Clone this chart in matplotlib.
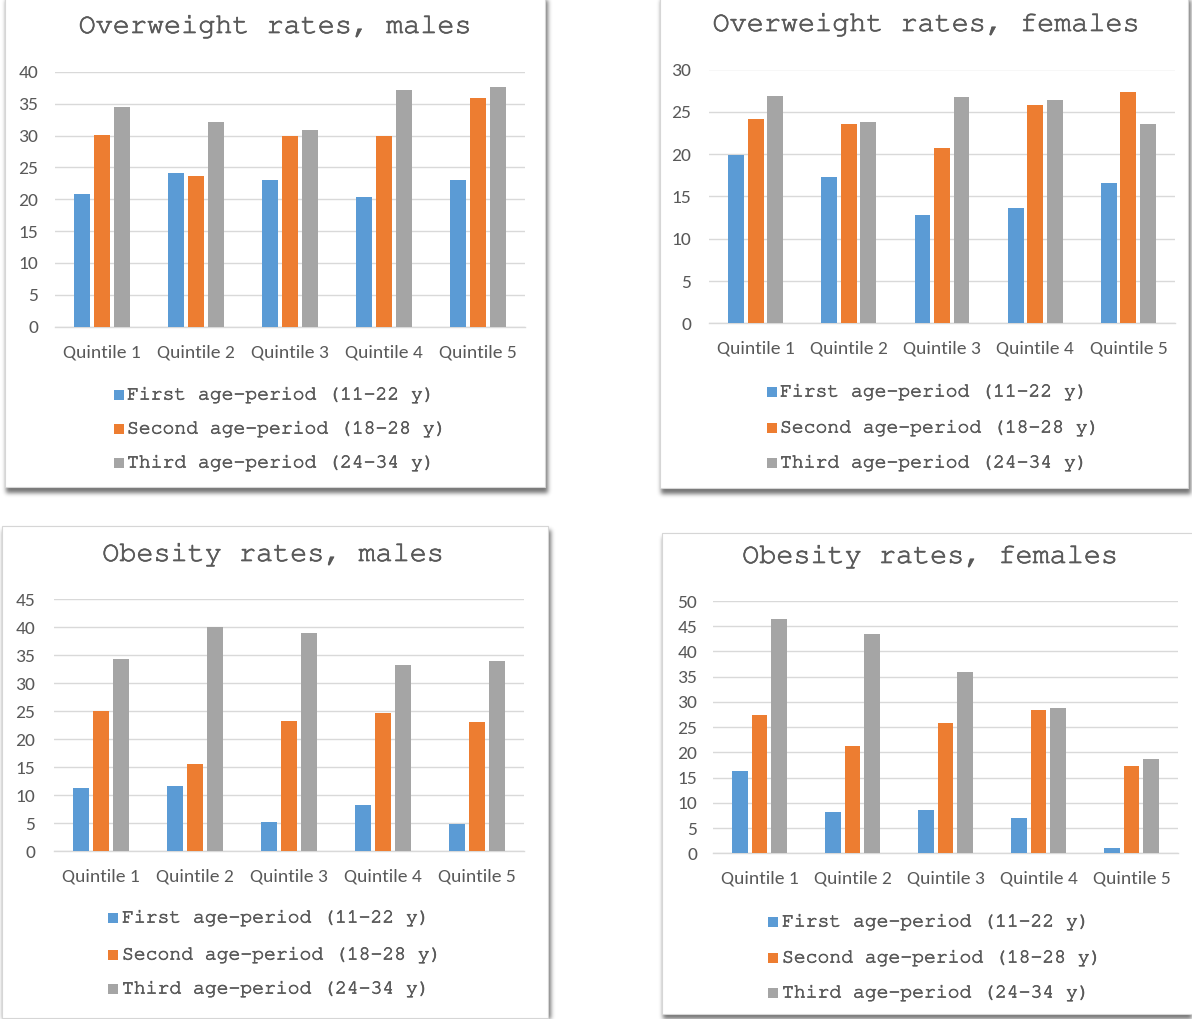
import numpy as np
import matplotlib
matplotlib.use("Agg")
import matplotlib.pyplot as plt
import matplotlib.patheffects as pe
from matplotlib.patches import Rectangle

# ---- data -------------------------------------------------------------
quintiles = ["Quintile 1", "Quintile 2", "Quintile 3", "Quintile 4", "Quintile 5"]
series_labels = ["First age-period (11-22 y)",
                 "Second age-period (18-28 y)",
                 "Third age-period (24-34 y)"]
series_colors = ["#5B9BD5", "#ED7D31", "#A5A5A5"]

overweight_males_first = [20.8, 24.1, 23.1, 20.3, 23.1]
overweight_males_second = [30.1, 23.6, 29.9, 29.9, 35.9]
overweight_males_third = [34.5, 32.1, 30.9, 37.2, 37.6]

overweight_females_first = [19.9, 17.3, 12.8, 13.6, 16.6]
overweight_females_second = [24.2, 23.6, 20.7, 25.8, 27.3]
overweight_females_third = [26.9, 23.8, 26.7, 26.4, 23.6]

obesity_males_first = [11.3, 11.6, 5.1, 8.3, 4.8]
obesity_males_second = [25.0, 15.6, 23.3, 24.6, 23.0]
obesity_males_third = [34.2, 40.0, 38.9, 33.3, 33.9]

obesity_females_first = [16.4, 8.1, 8.5, 6.9, 1.0]
obesity_females_second = [27.5, 21.2, 25.9, 28.4, 17.3]
obesity_females_third = [46.4, 43.5, 36.0, 28.8, 18.7]

titles = ["Overweight rates, males", "Overweight rates, females",
          "Obesity rates, males", "Obesity rates, females"]
y_max = [40, 30, 45, 50]

# ---- layout (pixel geometry of the four chart cards) -------------------
W, H = 1192, 1019
MONO = ["FreeMono", "Liberation Mono", "DejaVu Sans Mono"]
SANS = ["Carlito", "Open Sans", "DejaVu Sans"]
TEXT = "#595959"
THICKEN = [pe.withStroke(linewidth=0.5, foreground=TEXT)]

panels = [
    dict(card=(5, -6, 545, 487), grid=(55, 72, 525, 326.5),
         title=(275, 27), leg_x=127, leg_rows=(395, 429, 463), mark_x=119,
         ytick_r=38, xtick_y=352,
         data=(overweight_males_first, overweight_males_second, overweight_males_third)),
    dict(card=(660, -6, 1188, 488), grid=(709, 69.5, 1175, 323.3),
         title=(926, 25), leg_x=780, leg_rows=(392, 428, 463), mark_x=772,
         ytick_r=691, xtick_y=348,
         data=(overweight_females_first, overweight_females_second, overweight_females_third)),
    dict(card=(2, 526, 548, 1018), grid=(54, 599, 524, 851),
         title=(273, 555), leg_x=122, leg_rows=(918, 955, 989), mark_x=113,
         ytick_r=35, xtick_y=877,
         data=(obesity_males_first, obesity_males_second, obesity_males_third)),
    dict(card=(662, 533, 1198, 1014), grid=(713, 601, 1178, 853.3),
         title=(930, 557), leg_x=782, leg_rows=(922, 958, 993), mark_x=773,
         ytick_r=697, xtick_y=879,
         data=(obesity_females_first, obesity_females_second, obesity_females_third)),
]


def fx(px):
    return px / W


def fy(py):
    return 1 - py / H


fig = plt.figure(figsize=(W / 100, H / 100), dpi=100)
fig.patch.set_facecolor("white")

# ---- soft drop shadows behind the cards --------------------------------
shadow = np.zeros((H, W))
for p in panels:
    x0, y0, x1, y1 = p["card"]
    sx0, sy0 = max(int(x0 + 1), 0), max(int(y0 + 4), 0)
    sx1, sy1 = min(int(x1 + 3), W), min(int(y1 + 6), H)
    shadow[sy0:sy1, sx0:sx1] = 1.0


def blur(a, sigma):
    r = int(3 * sigma)
    k = np.exp(-0.5 * (np.arange(-r, r + 1) / sigma) ** 2)
    k /= k.sum()
    a = np.apply_along_axis(lambda v: np.convolve(v, k, mode="same"), 0, a)
    a = np.apply_along_axis(lambda v: np.convolve(v, k, mode="same"), 1, a)
    return a


shadow = blur(shadow, 2.2)
rgba = np.zeros((H, W, 4))
rgba[..., 3] = shadow * 0.55
bg = fig.add_axes([0, 0, 1, 1], zorder=-10)
bg.imshow(rgba, extent=(0, W, H, 0), interpolation="bilinear")
bg.set_xlim(0, W)
bg.set_ylim(H, 0)
bg.axis("off")

# ---- cards -------------------------------------------------------------
for p in panels:
    x0, y0, x1, y1 = p["card"]
    fig.patches.append(Rectangle((fx(x0), fy(y1)), (x1 - x0) / W, (y1 - y0) / H,
                                 transform=fig.transFigure, facecolor="white",
                                 edgecolor="#D6D6D6", linewidth=0.8, zorder=-5))

# ---- charts ------------------------------------------------------------
x = np.arange(len(quintiles))
bar_w = 0.17
offsets = [-0.21, 0.0, 0.21]

for p, title, ymax in zip(panels, titles, y_max):
    gx0, gtop, gx1, gbot = p["grid"]
    ax = fig.add_axes([fx(gx0), fy(gbot), (gx1 - gx0) / W, (gbot - gtop) / H])
    ax.set_facecolor("none")
    for vals, off, col in zip(p["data"], offsets, series_colors):
        ax.bar(x + off, vals, width=bar_w, color=col, zorder=3)
    ax.set_xlim(-0.5, len(quintiles) - 0.5)
    ax.set_ylim(0, ymax)
    ax.set_yticks(np.arange(0, ymax + 1, 5))
    ax.set_xticks(x)
    ax.set_xticklabels(quintiles)
    ax.grid(axis="y", color="#D9D9D9", linewidth=1.0, zorder=0)
    ax.set_axisbelow(True)
    for s in ("top", "left", "right"):
        ax.spines[s].set_visible(False)
    ax.spines["bottom"].set_color("#D9D9D9")
    ax.spines["bottom"].set_linewidth(1.0)
    ypad = (gx0 - p["ytick_r"]) * 0.72
    ax.tick_params(axis="y", length=0, pad=ypad, labelsize=14, labelcolor=TEXT)
    ax.tick_params(axis="x", length=0, pad=(p["xtick_y"] - gbot - 8) * 0.72,
                   labelsize=14, labelcolor=TEXT)
    for lab in ax.get_xticklabels() + ax.get_yticklabels():
        lab.set_fontfamily(SANS)

    tx, ty = p["title"]
    fig.text(fx(tx), fy(ty), title, ha="center", va="center",
             fontsize=20.5, family=MONO, color=TEXT, path_effects=THICKEN)

    # legend entries
    for label, col, ry in zip(series_labels, series_colors, p["leg_rows"]):
        m = 9.5
        fig.patches.append(Rectangle((fx(p["mark_x"] - m / 2), fy(ry + m / 2)),
                                     m / W, m / H, transform=fig.transFigure,
                                     facecolor=col, edgecolor="none"))
        fig.text(fx(p["leg_x"]), fy(ry), label, ha="left", va="center",
                 fontsize=14.2, family=MONO, color=TEXT, path_effects=THICKEN)

fig.savefig("out.png", dpi=100, facecolor="white")
